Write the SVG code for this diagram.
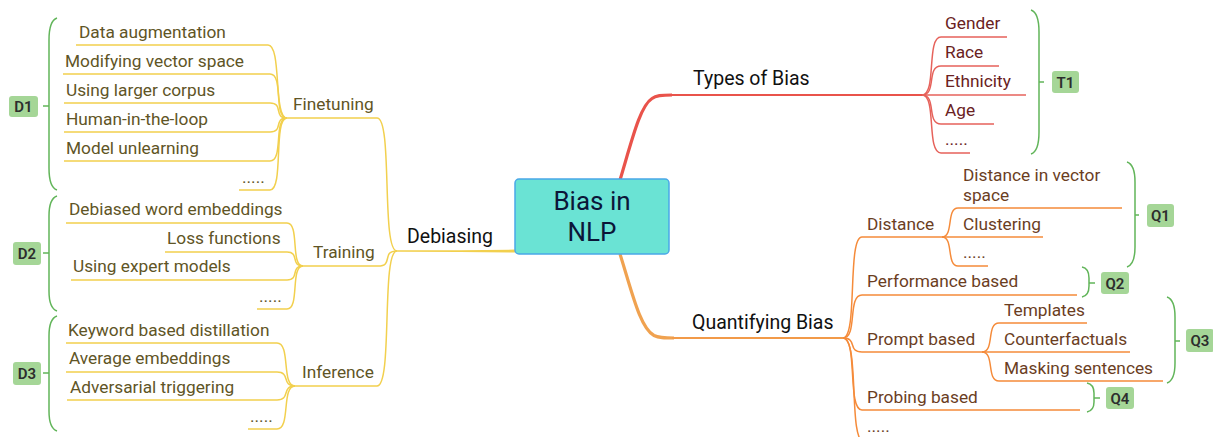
<svg xmlns="http://www.w3.org/2000/svg" width="1213" height="437" viewBox="0 0 1213 437">
<style>
text{font-family:Roboto,"Liberation Sans",sans-serif;font-size:17.3px}
.main{font-size:19.5px;fill:#111}
.y{fill:#5f5526}
.r{fill:#6a2222}
.o{fill:#6b3e1f}
.ly{fill:none;stroke:#f2d04e;stroke-width:1.5}
.lr{fill:none;stroke:#e6625b;stroke-width:1.5}
.lo{fill:none;stroke:#f58b3a;stroke-width:1.5}
.br{fill:none;stroke:#62b55a;stroke-width:1.5}
.tag{fill:#a5d697}
.tt{font-size:15px;font-weight:600;fill:#2d2d2d;text-anchor:middle}
</style>
<rect width="1213" height="437" fill="#fff"/>
<g id="connectors">
<path d="M515,249.6 L515,252.6 L460,252 L397,251.7 L397,250.3 L460,250.2 Z" fill="#f2d04e"/>
<path d="M620,180 C632,140 640,106 652,98.5 C656,95.5 661,95 672,95" fill="none" stroke="#e9534b" stroke-width="3.2"/>
<path d="M670,95 L922,95" fill="none" stroke="#e9534b" stroke-width="2"/>
<path d="M620,254 C632,292 640,328 654,335.5 C659,338 664,338 674,338" fill="none" stroke="#f0a250" stroke-width="3.2"/>
<path d="M672,338 L843,338" fill="none" stroke="#f29a48" stroke-width="1.8"/>
<path class="ly" d="M397,251 C381,251 393,118 377,118 L287,118"/>
<path class="ly" d="M397,251 C381,251 394,266 378,266 L303,266"/>
<path class="ly" d="M397,251 C381,251 393,386 377,386 L295,386"/>
<path class="ly" d="M287,118 C273,118 282,45 268,45 L76,45"/>
<path class="ly" d="M287,118 C273,118 284,74 270,74 L63,74"/>
<path class="ly" d="M287,118 C273,118 284,103 270,103 L64,103"/>
<path class="ly" d="M287,118 C273,118 284,132 270,132 L64,132"/>
<path class="ly" d="M287,118 C273,118 284,161 270,161 L64,161"/>
<path class="ly" d="M287,118 C273,118 284,190 270,190 L239,190"/>
<path class="ly" d="M303,266 C290,266 300,223 287,223 L66,223"/>
<path class="ly" d="M303,266 C290,266 300,252 287,252 L165,252"/>
<path class="ly" d="M303,266 C290,266 300,280 287,280 L71,280"/>
<path class="ly" d="M303,266 C290,266 300,309 287,309 L257,309"/>
<path class="ly" d="M295,386 C281,386 291,343 277,343 L66,343"/>
<path class="ly" d="M295,386 C281,386 291,372 277,372 L66,372"/>
<path class="ly" d="M295,386 C281,386 291,400 277,400 L67,400"/>
<path class="ly" d="M295,386 C281,386 291,429 277,429 L248,429"/>
<path class="lr" d="M922,95 C937,95 926,37 941,37 L1007,37"/>
<path class="lr" d="M922,95 C937,95 926,66 941,66 L999,66"/>
<path class="lr" d="M922,95 L1026,95"/>
<path class="lr" d="M922,95 C937,95 926,124 941,124 L994,124"/>
<path class="lr" d="M922,95 C937,95 926,153 941,153 L970,153"/>
<path class="lo" d="M843,338 C858,338 847,237 862,237 L942,237"/>
<path class="lo" d="M843,338 C858,338 847,295 862,295 L1077,295"/>
<path class="lo" d="M843,338 C858,338 847,352 862,352 L982,352"/>
<path class="lo" d="M843,338 C858,338 847,410 862,410 L1080,410"/>
<path class="lo" d="M843,338 C860,338 848,442 864,442 L890,442"/>
<path class="lo" d="M942,237 C954,237 946,208 958,208 L1122,208"/>
<path class="lo" d="M942,237 L1043,237"/>
<path class="lo" d="M942,237 C954,237 946,266 958,266 L988,266"/>
<path class="lo" d="M982,352 C995,352 986,323 999,323 L1087,323"/>
<path class="lo" d="M982,352 L1130,352"/>
<path class="lo" d="M982,352 C995,352 986,381 999,381 L1163,381"/>
<path class="br" d="M57,18 C51,20 49,28 49,40 L49,168 C49,180 51,188 57,190 M49,106 L43,106"/>
<path class="br" d="M57,196 C51,198 49,206 49,216 L49,291 C49,301 51,309 57,311 M49,253 L43,253"/>
<path class="br" d="M57,316 C51,318 49,326 49,336 L49,411 C49,421 51,429 57,431 M49,373 L43,373"/>
<path class="br" d="M1031,10 C1037,12 1039,20 1039,32 L1039,132 C1039,144 1037,152 1031,154 M1039,82 L1044,82"/>
<path class="br" d="M1127,162 C1133,164 1135,172 1135,182 L1135,247 C1135,257 1133,265 1127,267 M1135,215 L1139,215"/>
<path class="br" d="M1082,267 C1087,268 1089,272 1089,278 L1089,286 C1089,292 1087,296 1082,297 M1089,283 L1095,283"/>
<path class="br" d="M1167,297 C1173,299 1175,307 1175,317 L1175,363 C1175,373 1173,381 1167,383 M1175,341 L1180,341"/>
<path class="br" d="M1087,383 C1092,384 1094,388 1094,393 L1094,402 C1094,407 1092,411 1087,412 M1094,398 L1100,398"/>
</g>
<g id="center">
<rect x="515" y="179" width="154" height="75" rx="4" fill="#6ae3d4" stroke="#4aa8e8" stroke-width="1.5"/>
<text x="592" y="210" text-anchor="middle" style="font-size:26px" fill="#0b1638">Bias in</text>
<text x="592" y="241" text-anchor="middle" style="font-size:26px" fill="#0b1638">NLP</text>
</g>
<g id="debiasing"><text class="main" x="407" y="243">Debiasing</text></g>
<g id="finetuning"><text class="y" x="293" y="110">Finetuning</text></g>
<g id="training"><text class="y" x="313" y="258">Training</text></g>
<g id="inference"><text class="y" x="302" y="378">Inference</text></g>
<g id="ft-children">
<text class="y" x="79" y="38">Data augmentation</text>
<text class="y" x="65" y="67">Modifying vector space</text>
<text class="y" x="66" y="96">Using larger corpus</text>
<text class="y" x="66" y="125">Human-in-the-loop</text>
<text class="y" x="66" y="154">Model unlearning</text>
<text class="y" x="242" y="183">.....</text>
</g>
<g id="tr-children">
<text class="y" x="69" y="215">Debiased word embeddings</text>
<text class="y" x="167" y="244">Loss functions</text>
<text class="y" x="73" y="272">Using expert models</text>
<text class="y" x="259" y="302">.....</text>
</g>
<g id="inf-children">
<text class="y" x="68" y="336">Keyword based distillation</text>
<text class="y" x="69" y="364">Average embeddings</text>
<text class="y" x="70" y="393">Adversarial triggering</text>
<text class="y" x="250" y="422">.....</text>
</g>
<g id="types"><text class="main" x="693" y="85">Types of Bias</text></g>
<g id="types-children">
<text class="r" x="945" y="29">Gender</text>
<text class="r" x="945" y="58">Race</text>
<text class="r" x="945" y="87">Ethnicity</text>
<text class="r" x="945" y="116">Age</text>
<text class="r" x="945" y="145">.....</text>
</g>
<g id="quantifying"><text class="main" x="692" y="329">Quantifying Bias</text></g>
<g id="distance">
<text class="o" x="867" y="230">Distance</text>
<text class="o" x="963" y="181">Distance in vector</text>
<text class="o" x="963" y="201">space</text>
<text class="o" x="963" y="230">Clustering</text>
<text class="o" x="963" y="258">.....</text>
</g>
<g id="performance"><text class="o" x="867" y="287">Performance based</text></g>
<g id="prompt">
<text class="o" x="867" y="345">Prompt based</text>
<text class="o" x="1004" y="316">Templates</text>
<text class="o" x="1004" y="345">Counterfactuals</text>
<text class="o" x="1004" y="374">Masking sentences</text>
</g>
<g id="probing"><text class="o" x="867" y="403">Probing based</text></g>
<g id="more"><text class="o" x="867" y="432">.....</text></g>
<g id="tags">
<g id="D1"><rect class="tag" x="9" y="96" width="29" height="21" rx="3"/><text class="tt" x="23.5" y="112">D1</text></g>
<g id="D2"><rect class="tag" x="13" y="242" width="28" height="23" rx="3"/><text class="tt" x="27" y="259">D2</text></g>
<g id="D3"><rect class="tag" x="13" y="362" width="28" height="23" rx="3"/><text class="tt" x="27" y="379">D3</text></g>
<g id="T1"><rect class="tag" x="1052" y="71" width="27" height="22" rx="3"/><text class="tt" x="1065.5" y="87.5">T1</text></g>
<g id="Q1"><rect class="tag" x="1147" y="204" width="27" height="23" rx="3"/><text class="tt" x="1160.5" y="221">Q1</text></g>
<g id="Q2"><rect class="tag" x="1101" y="272" width="28" height="22" rx="3"/><text class="tt" x="1115" y="288.5">Q2</text></g>
<g id="Q3"><rect class="tag" x="1186" y="329" width="28" height="23" rx="3"/><text class="tt" x="1200" y="346">Q3</text></g>
<g id="Q4"><rect class="tag" x="1106" y="387" width="28" height="22" rx="3"/><text class="tt" x="1120" y="403.5">Q4</text></g>
</g>
</svg>
